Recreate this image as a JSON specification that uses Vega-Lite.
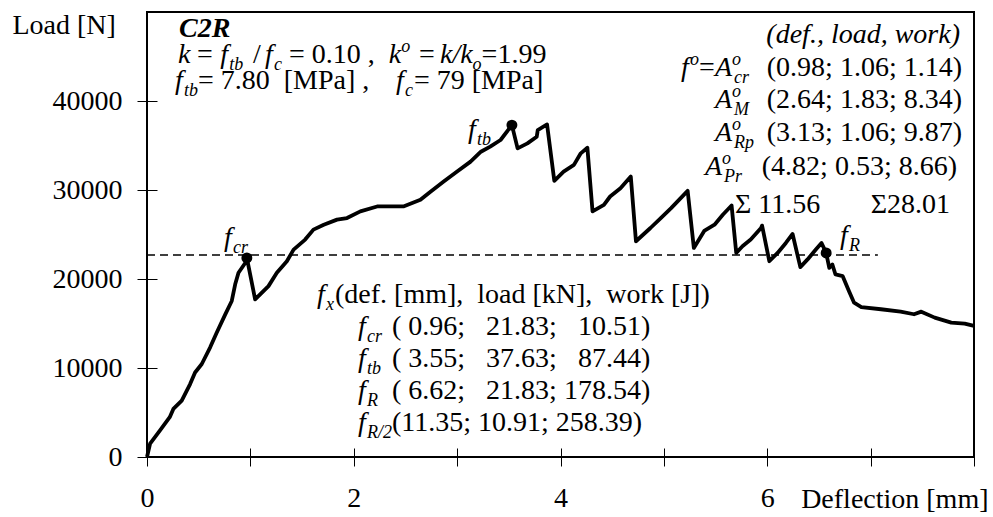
{
  "$schema": "https://vega.github.io/schema/vega-lite/v6.json",
  "width": 827,
  "height": 445,
  "autosize": {"type": "none"},
  "padding": {"left": 147, "top": 12, "right": 19, "bottom": 60},
  "background": "white",
  "config": {
    "view": {"stroke": "black", "strokeWidth": 2},
    "text": {"font": "Liberation Serif, Times New Roman, serif"},
    "axis": {"grid": false, "domain": false, "labelFont": "Liberation Serif, Times New Roman, serif", "labelFontSize": 28, "labelColor": "black", "tickColor": "black", "tickWidth": 1, "titleFont": "Liberation Serif, Times New Roman, serif", "titleFontSize": 28, "titleFontWeight": "normal", "titleColor": "black", "labelFlush": false, "labelOverlap": false}
  },
  "datasets": {
    "curve": [
      {"x": 0, "y": 0}, {"x": 0.03, "y": 1500}, {"x": 0.126, "y": 2990}, {"x": 0.22, "y": 4470}, {"x": 0.255, "y": 5400},
      {"x": 0.336, "y": 6340}, {"x": 0.417, "y": 8200}, {"x": 0.465, "y": 9500}, {"x": 0.53, "y": 10450}, {"x": 0.61, "y": 12300},
      {"x": 0.675, "y": 14000}, {"x": 0.756, "y": 16000}, {"x": 0.82, "y": 17530}, {"x": 0.853, "y": 19400}, {"x": 0.885, "y": 20700},
      {"x": 0.95, "y": 21800}, {"x": 0.966, "y": 22370}, {"x": 1.046, "y": 17720}, {"x": 1.175, "y": 19200}, {"x": 1.256, "y": 20700},
      {"x": 1.353, "y": 22000}, {"x": 1.418, "y": 23300}, {"x": 1.53, "y": 24430}, {"x": 1.61, "y": 25550}, {"x": 1.71, "y": 26100},
      {"x": 1.838, "y": 26670}, {"x": 1.935, "y": 26850}, {"x": 2.064, "y": 27600}, {"x": 2.226, "y": 28150}, {"x": 2.48, "y": 28150},
      {"x": 2.645, "y": 28900}, {"x": 2.73, "y": 29700}, {"x": 2.87, "y": 30950}, {"x": 3.0, "y": 32070}, {"x": 3.13, "y": 33190},
      {"x": 3.23, "y": 34300}, {"x": 3.32, "y": 34870}, {"x": 3.42, "y": 35620}, {"x": 3.53, "y": 37290}, {"x": 3.585, "y": 34680},
      {"x": 3.68, "y": 35240}, {"x": 3.77, "y": 35990}, {"x": 3.78, "y": 36730}, {"x": 3.87, "y": 37360}, {"x": 3.94, "y": 31030},
      {"x": 4.03, "y": 32070}, {"x": 4.13, "y": 32820}, {"x": 4.196, "y": 34120}, {"x": 4.26, "y": 34750}, {"x": 4.31, "y": 27600},
      {"x": 4.42, "y": 28340}, {"x": 4.48, "y": 29270}, {"x": 4.58, "y": 30200}, {"x": 4.68, "y": 31510}, {"x": 4.73, "y": 24240},
      {"x": 4.87, "y": 25730}, {"x": 4.97, "y": 26850}, {"x": 5.07, "y": 27960}, {"x": 5.23, "y": 29900}, {"x": 5.29, "y": 23490},
      {"x": 5.39, "y": 25400}, {"x": 5.49, "y": 26100}, {"x": 5.57, "y": 27220}, {"x": 5.655, "y": 28260}, {"x": 5.7, "y": 22930},
      {"x": 5.76, "y": 23680}, {"x": 5.84, "y": 24430}, {"x": 5.94, "y": 25730}, {"x": 5.95, "y": 26000}, {"x": 6.02, "y": 22000},
      {"x": 6.1, "y": 22930}, {"x": 6.18, "y": 24050}, {"x": 6.245, "y": 25060}, {"x": 6.32, "y": 21330}, {"x": 6.39, "y": 22200},
      {"x": 6.47, "y": 23310}, {"x": 6.525, "y": 24050}, {"x": 6.57, "y": 22930}, {"x": 6.6, "y": 21250}, {"x": 6.63, "y": 21630},
      {"x": 6.66, "y": 20510}, {"x": 6.73, "y": 20320}, {"x": 6.79, "y": 18650}, {"x": 6.84, "y": 17340}, {"x": 6.91, "y": 16850},
      {"x": 7.1, "y": 16600}, {"x": 7.29, "y": 16330}, {"x": 7.42, "y": 16040}, {"x": 7.49, "y": 16330}, {"x": 7.62, "y": 15660},
      {"x": 7.78, "y": 15100}, {"x": 7.91, "y": 14990}, {"x": 8.0, "y": 14730}
    ],
    "points": [
      {"x": 0.966, "y": 22370}, {"x": 3.53, "y": 37290}, {"x": 6.57, "y": 22930}
    ],
    "level": [
      {"x": 0, "x2": 7.07, "y": 22700}
    ],
    "notes": [
      {"x": 0.3096, "y": 47191, "t": "C2R", "k": "bi"},
      {"x": 0.2999, "y": 44270, "t": "k", "k": "i"},
      {"x": 0.4837, "y": 44270, "t": "=", "k": "n"},
      {"x": 0.7081, "y": 44270, "t": "f", "k": "i"},
      {"x": 0.7952, "y": 44270, "t": "tb", "k": "sub"},
      {"x": 1.0254, "y": 44270, "t": "/", "k": "n"},
      {"x": 1.1415, "y": 44270, "t": "f", "k": "i"},
      {"x": 1.2285, "y": 44270, "t": "c", "k": "sub"},
      {"x": 1.3737, "y": 44270, "t": "=\u00a00.10\u00a0,", "k": "n"},
      {"x": 2.3391, "y": 44270, "t": "k", "k": "i"},
      {"x": 2.459, "y": 44270, "t": "o", "k": "sup"},
      {"x": 2.6312, "y": 44270, "t": "=", "k": "n"},
      {"x": 2.8344, "y": 44270, "t": "k/k", "k": "i"},
      {"x": 3.1497, "y": 44270, "t": "o", "k": "sub"},
      {"x": 3.2368, "y": 44270, "t": "=1.99", "k": "n"},
      {"x": 0.2709, "y": 41348, "t": "f", "k": "i"},
      {"x": 0.3579, "y": 41348, "t": "tb", "k": "sub"},
      {"x": 0.4934, "y": 41348, "t": "=\u00a07.80\u00a0\u00a0[MPa]\u00a0,", "k": "n"},
      {"x": 2.4087, "y": 41348, "t": "f", "k": "i"},
      {"x": 2.4958, "y": 41348, "t": "c", "k": "sub"},
      {"x": 2.5829, "y": 41348, "t": "=\u00a079\u00a0[MPa]", "k": "n"},
      {"x": 7.8646, "y": 46517, "t": "(def., load, work)", "k": "ir"},
      {"x": 5.1657, "y": 42809, "t": "f", "k": "i"},
      {"x": 5.2527, "y": 42809, "t": "o", "k": "sup"},
      {"x": 5.3398, "y": 42809, "t": "=", "k": "n"},
      {"x": 5.4946, "y": 42809, "t": "A", "k": "i"},
      {"x": 5.659, "y": 42809, "t": "o", "k": "sup"},
      {"x": 5.6784, "y": 42809, "t": "cr", "k": "sub"},
      {"x": 7.8839, "y": 42809, "t": "(0.98; 1.06; 1.14)", "k": "nr"},
      {"x": 5.4946, "y": 39214, "t": "A", "k": "i"},
      {"x": 5.659, "y": 39214, "t": "o", "k": "sup"},
      {"x": 5.6784, "y": 39214, "t": "M", "k": "sub"},
      {"x": 7.8839, "y": 39214, "t": "(2.64; 1.83; 8.34)", "k": "nr"},
      {"x": 5.4946, "y": 35506, "t": "A", "k": "i"},
      {"x": 5.659, "y": 35506, "t": "o", "k": "sup"},
      {"x": 5.6784, "y": 35506, "t": "Rp", "k": "sub"},
      {"x": 7.8839, "y": 35506, "t": "(3.13; 1.06; 9.87)", "k": "nr"},
      {"x": 5.3978, "y": 31686, "t": "A", "k": "i"},
      {"x": 5.5623, "y": 31686, "t": "o", "k": "sup"},
      {"x": 5.5816, "y": 31686, "t": "Pr", "k": "sub"},
      {"x": 7.8356, "y": 31686, "t": "(4.82; 0.53; 8.66)", "k": "nr"},
      {"x": 5.6881, "y": 27416, "t": "Σ 11.56", "k": "n"},
      {"x": 7.7678, "y": 27416, "t": "Σ28.01", "k": "nr"},
      {"x": 1.6445, "y": 17303, "t": "f", "k": "i"},
      {"x": 1.7316, "y": 17303, "t": "x", "k": "sub"},
      {"x": 1.8186, "y": 17303, "t": "(def. [mm],\u00a0\u00a0load [kN],\u00a0\u00a0work [J])", "k": "n"},
      {"x": 2.0411, "y": 13708, "t": "f", "k": "i"},
      {"x": 2.1282, "y": 13708, "t": "cr", "k": "sub"},
      {"x": 2.37, "y": 13708, "t": "(\u00a00.96;\u00a0\u00a0\u00a021.83;\u00a0\u00a0\u00a010.51)", "k": "n"},
      {"x": 2.0411, "y": 10112, "t": "f", "k": "i"},
      {"x": 2.1282, "y": 10112, "t": "tb", "k": "sub"},
      {"x": 2.37, "y": 10112, "t": "(\u00a03.55;\u00a0\u00a0\u00a037.63;\u00a0\u00a0\u00a087.44)", "k": "n"},
      {"x": 2.0411, "y": 6517, "t": "f", "k": "i"},
      {"x": 2.1282, "y": 6517, "t": "R", "k": "sub"},
      {"x": 2.37, "y": 6517, "t": "(\u00a06.62;\u00a0\u00a0\u00a021.83;\u00a0178.54)", "k": "n"},
      {"x": 2.0411, "y": 2921, "t": "f", "k": "i"},
      {"x": 2.1282, "y": 2921, "t": "R/2", "k": "sub"},
      {"x": 2.37, "y": 2921, "t": "(11.35;\u00a010.91;\u00a0258.39)", "k": "n"},
      {"x": 0.7449, "y": 23708, "t": "f", "k": "i"},
      {"x": 0.8319, "y": 23708, "t": "cr", "k": "sub"},
      {"x": 3.1052, "y": 35843, "t": "f", "k": "i"},
      {"x": 3.1923, "y": 35843, "t": "tb", "k": "sub"},
      {"x": 6.7039, "y": 23933, "t": "f", "k": "i"},
      {"x": 6.7908, "y": 23933, "t": "R", "k": "sub"}
    ]
  },
  "encoding": {
    "x": {
      "field": "x", "type": "quantitative",
      "scale": {"domain": [0, 8], "nice": false, "zero": false},
      "axis": {
        "values": [0, 1, 2, 3, 4, 5, 6, 7, 8],
        "labelExpr": "datum.value % 2 == 0 && datum.value < 8 ? datum.label : ''",
        "tickSize": 18, "offset": -9, "labelPadding": 40, "labelBaseline": "alphabetic",
        "title": "Deflection [mm]", "titleX": 841, "titleY": 59, "titleAlign": "right", "titleBaseline": "alphabetic", "titleAnchor": null
      }
    },
    "y": {
      "field": "y", "type": "quantitative",
      "scale": {"domain": [0, 50000], "nice": false, "zero": false},
      "axis": {
        "values": [0, 10000, 20000, 30000, 40000], "format": "d",
        "tickSize": 20, "offset": -10, "labelPadding": 15, "labelBaseline": "middle",
        "title": "Load [N]", "titleAngle": 0, "titleX": -145, "titleY": 21, "titleAlign": "left", "titleBaseline": "alphabetic", "titleAnchor": null
      }
    }
  },
  "layer": [
    {
      "data": {"name": "level"},
      "mark": {"type": "rule", "color": "black", "strokeWidth": 1.5, "strokeDash": [8, 5]},
      "encoding": {"x2": {"field": "x2"}}
    },
    {
      "data": {"name": "curve"},
      "mark": {"type": "line", "color": "black", "strokeWidth": 3.8, "strokeJoin": "round"}
    },
    {
      "data": {"name": "points"},
      "mark": {"type": "circle", "color": "black", "opacity": 1, "size": 120}
    },
    {
      "data": {"name": "notes"},
      "transform": [{"filter": "datum.k == 'n'"}],
      "mark": {"type": "text", "fontSize": 28, "align": "left", "baseline": "alphabetic", "color": "black"},
      "encoding": {"text": {"field": "t"}}
    },
    {
      "data": {"name": "notes"},
      "transform": [{"filter": "datum.k == 'nr'"}],
      "mark": {"type": "text", "fontSize": 28, "align": "right", "baseline": "alphabetic", "color": "black"},
      "encoding": {"text": {"field": "t"}}
    },
    {
      "data": {"name": "notes"},
      "transform": [{"filter": "datum.k == 'i'"}],
      "mark": {"type": "text", "fontSize": 28, "fontStyle": "italic", "align": "left", "baseline": "alphabetic", "color": "black"},
      "encoding": {"text": {"field": "t"}}
    },
    {
      "data": {"name": "notes"},
      "transform": [{"filter": "datum.k == 'ir'"}],
      "mark": {"type": "text", "fontSize": 28, "fontStyle": "italic", "align": "right", "baseline": "alphabetic", "color": "black"},
      "encoding": {"text": {"field": "t"}}
    },
    {
      "data": {"name": "notes"},
      "transform": [{"filter": "datum.k == 'bi'"}],
      "mark": {"type": "text", "fontSize": 28, "fontStyle": "italic", "fontWeight": "bold", "align": "left", "baseline": "alphabetic", "color": "black"},
      "encoding": {"text": {"field": "t"}}
    },
    {
      "data": {"name": "notes"},
      "transform": [{"filter": "datum.k == 'sub'"}],
      "mark": {"type": "text", "fontSize": 18, "fontStyle": "italic", "align": "left", "baseline": "alphabetic", "dy": 7, "color": "black"},
      "encoding": {"text": {"field": "t"}}
    },
    {
      "data": {"name": "notes"},
      "transform": [{"filter": "datum.k == 'sup'"}],
      "mark": {"type": "text", "fontSize": 18, "fontStyle": "italic", "align": "left", "baseline": "alphabetic", "dy": -11, "color": "black"},
      "encoding": {"text": {"field": "t"}}
    }
  ]
}
